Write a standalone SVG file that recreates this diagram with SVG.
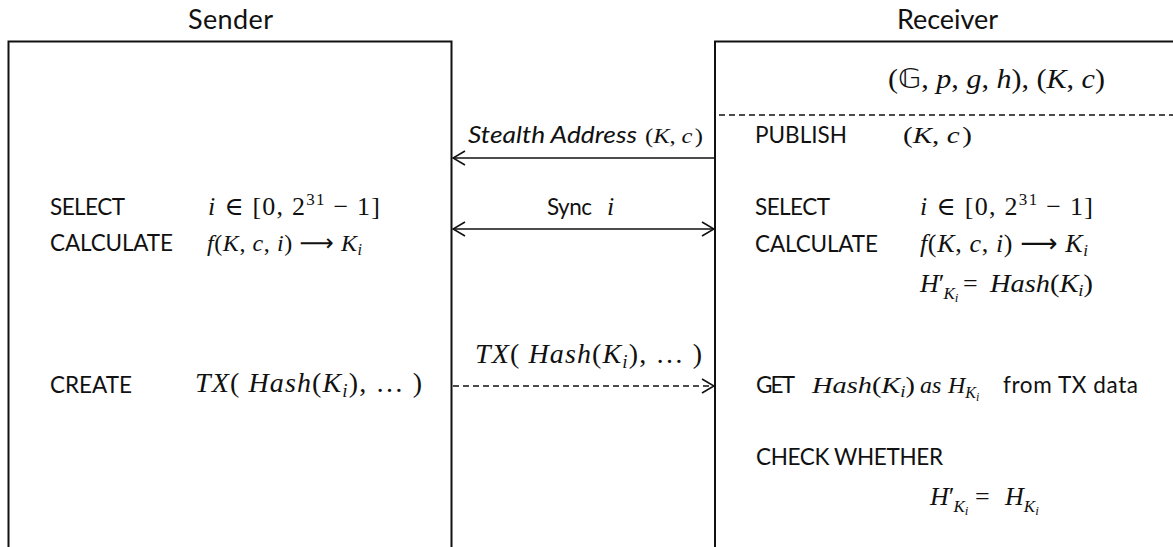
<svg xmlns="http://www.w3.org/2000/svg" width="1173" height="547" viewBox="0 0 1173 547">
  <style>
    .sans { font-family: Lato, "Liberation Sans", sans-serif; fill: #111; }
    .head { font-size: 27px; }
    .kw { font-size: 22.5px; }
    .m { font-family: "Liberation Serif", "DejaVu Serif", serif; font-style: italic; fill: #111; }
    .u { font-style: normal; }
    .sym { font-family: "DejaVu Sans", sans-serif; font-style: normal; }
    .bb { font-family: "DejaVu Sans", "DejaVu Serif", sans-serif; font-style: normal; }
    .box { fill: none; stroke: #111; stroke-width: 2; }
    .sep { fill: none; stroke: #111; stroke-width: 1.5; stroke-dasharray: 6 4; }
    .conn { fill: none; stroke: #111; stroke-width: 1.6; }
    .dash { stroke-dasharray: 6 4; }
  </style>
  <defs>
    <!-- open chevron arrowhead used by all message lines -->
    <marker id="open" viewBox="0 0 14 16" refX="13" refY="8" markerWidth="14" markerHeight="16" markerUnits="userSpaceOnUse" orient="auto-start-reverse">
      <path d="M1,1 L13,8 L1,15" fill="none" stroke="#111" stroke-width="1.6"/>
    </marker>
  </defs>

  <rect width="1173" height="547" fill="#fff"/>

  <!-- Sender lane -->
  <g id="sender">
    <text class="sans head" x="188" y="29" textLength="85" lengthAdjust="spacing">Sender</text>
    <path class="box" d="M8.5,560 V41.5 H451.5 V560"/>
    <text class="sans kw" x="50" y="215" textLength="75" lengthAdjust="spacing">SELECT</text>
    <text class="m" x="208" y="215" font-size="26" textLength="172" lengthAdjust="spacing">i<tspan class="u"> ∈ [0, 2</tspan><tspan class="u" font-size="17" dy="-10">31</tspan><tspan class="u" dy="10"> − 1]</tspan></text>
    <text class="sans kw" x="50" y="251" textLength="123" lengthAdjust="spacing">CALCULATE</text>
    <text class="m" x="207" y="251" font-size="24" textLength="155" lengthAdjust="spacing">f<tspan class="u">(</tspan>K<tspan class="u">, </tspan>c<tspan class="u">, </tspan>i<tspan class="u">) </tspan><tspan class="sym">⟶</tspan><tspan class="u"> </tspan>K<tspan font-size="16" dy="4">i</tspan></text>
    <text class="sans kw" x="50" y="393" textLength="82" lengthAdjust="spacing">CREATE</text>
    <text class="m" x="195" y="392" font-size="28" textLength="227" lengthAdjust="spacing">TX<tspan class="u">( </tspan>Hash<tspan class="u">(</tspan>K<tspan font-size="19" dy="5">i</tspan><tspan class="u" dy="-5">), … )</tspan></text>
  </g>

  <!-- Receiver lane -->
  <g id="receiver">
    <text class="sans head" x="897" y="29" textLength="101" lengthAdjust="spacing">Receiver</text>
    <path class="box" d="M1180,41.5 H715 V560"/>
    <text class="m" x="888" y="88" font-size="27" textLength="217" lengthAdjust="spacingAndGlyphs"><tspan class="u">(</tspan><tspan class="bb">𝔾</tspan><tspan class="u">, </tspan>p<tspan class="u">, </tspan>g<tspan class="u">, </tspan>h<tspan class="u">), (</tspan>K<tspan class="u">, </tspan>c<tspan class="u">)</tspan></text>
    <path class="sep" d="M719,115 H1173"/>
    <text class="sans kw" x="755" y="143" textLength="92" lengthAdjust="spacing">PUBLISH</text>
    <text class="m" x="903" y="143" font-size="23" textLength="69" lengthAdjust="spacingAndGlyphs"><tspan class="u">(</tspan>K<tspan class="u">,</tspan><tspan dx="6">c</tspan><tspan class="u" dx="2">)</tspan></text>
    <text class="sans kw" x="755" y="215" textLength="75" lengthAdjust="spacing">SELECT</text>
    <text class="m" x="920" y="215" font-size="26" textLength="173" lengthAdjust="spacing">i<tspan class="u"> ∈ [0, 2</tspan><tspan class="u" font-size="17" dy="-10">31</tspan><tspan class="u" dy="10"> − 1]</tspan></text>
    <text class="sans kw" x="755" y="252" textLength="123" lengthAdjust="spacing">CALCULATE</text>
    <text class="m" x="920" y="252" font-size="26" textLength="168" lengthAdjust="spacing">f<tspan class="u">(</tspan>K<tspan class="u">, </tspan>c<tspan class="u">, </tspan>i<tspan class="u">) </tspan><tspan class="sym">⟶</tspan><tspan class="u"> </tspan>K<tspan font-size="17" dy="4">i</tspan></text>
    <!-- H'_{K_i} = Hash(K_i) -->
    <text class="m" x="920" y="292" font-size="26">H<tspan class="u">′</tspan><tspan font-size="17" dx="-1" dy="7">K</tspan><tspan font-size="13" dy="3">i</tspan></text>
    <text class="m u" x="963" y="292" font-size="26">=</text>
    <text class="m" x="990" y="292" font-size="26" textLength="103" lengthAdjust="spacingAndGlyphs">Hash<tspan class="u">(</tspan>K<tspan font-size="17" dy="4">i</tspan><tspan class="u" dy="-4">)</tspan></text>
    <!-- GET Hash(K_i) as H_{K_i} from TX data -->
    <text class="sans kw" x="756" y="393" textLength="39" lengthAdjust="spacing">GET</text>
    <text class="m" x="812" y="393" font-size="24" textLength="103" lengthAdjust="spacingAndGlyphs">Hash<tspan class="u">(</tspan>K<tspan font-size="16" dy="4">i</tspan><tspan class="u" dy="-4">)</tspan></text>
    <text class="m" x="920" y="393" font-size="24">as</text>
    <text class="m" x="948" y="393" font-size="24">H<tspan font-size="16" dy="5">K</tspan><tspan font-size="12" dy="3">i</tspan></text>
    <text class="sans kw" x="1003" y="393" textLength="135" lengthAdjust="spacing">from TX data</text>
    <text class="sans kw" x="756" y="465" textLength="187" lengthAdjust="spacing">CHECK WHETHER</text>
    <!-- H'_{K_i} = H_{K_i} -->
    <text class="m" x="930" y="505" font-size="26">H<tspan class="u">′</tspan><tspan font-size="17" dx="-1" dy="7">K</tspan><tspan font-size="13" dy="3">i</tspan></text>
    <text class="m u" x="975" y="505" font-size="26">=</text>
    <text class="m" x="1005" y="505" font-size="26">H<tspan font-size="17" dy="7">K</tspan><tspan font-size="13" dy="3">i</tspan></text>
  </g>

  <!-- Messages between the lanes -->
  <g id="connectors">
    <line class="conn" x1="714" y1="158" x2="453" y2="158" marker-end="url(#open)"/>
    <text class="sans kw" x="468" y="143" font-style="italic" textLength="169" lengthAdjust="spacingAndGlyphs">Stealth Address</text>
    <text class="m" x="645" y="143" font-size="21" textLength="58" lengthAdjust="spacingAndGlyphs"><tspan class="u">(</tspan>K<tspan class="u">,</tspan><tspan dx="5">c</tspan><tspan class="u" dx="2">)</tspan></text>
    <line class="conn" x1="453" y1="229" x2="714" y2="229" marker-start="url(#open)" marker-end="url(#open)"/>
    <text class="sans kw" x="547" y="215" textLength="45" lengthAdjust="spacing">Sync</text>
    <text class="m" x="607" y="215" font-size="26">i</text>
    <line class="conn dash" x1="453" y1="386" x2="714" y2="386" marker-end="url(#open)"/>
    <text class="m" x="475" y="363" font-size="28" textLength="227" lengthAdjust="spacing">TX<tspan class="u">( </tspan>Hash<tspan class="u">(</tspan>K<tspan font-size="19" dy="5">i</tspan><tspan class="u" dy="-5">), … )</tspan></text>
  </g>
</svg>
